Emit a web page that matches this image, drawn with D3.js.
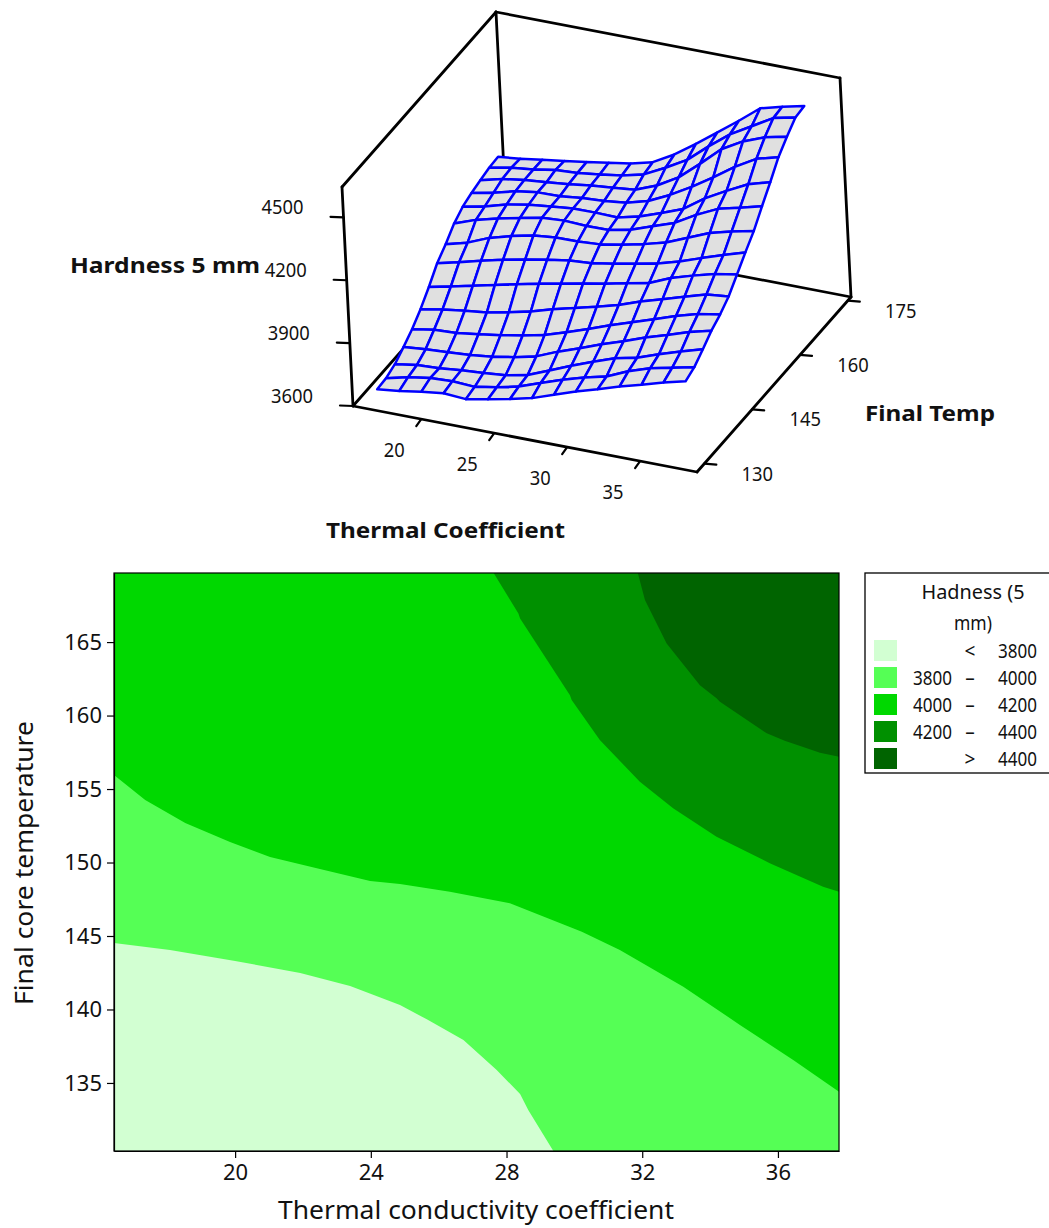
<!DOCTYPE html>
<html>
<head>
<meta charset="utf-8">
<style>
html,body{margin:0;padding:0;background:#fff;overflow:hidden}
svg{display:block}
text{font-family:"Noto Sans",Tahoma,sans-serif;fill:#111}
</style>
<script src="https://cdn.jsdelivr.net/npm/d3@7"></script>
</head>
<body>
<svg id="chart" width="1049" height="1228"></svg>
<script>
// ---------- data: 3D response surface ----------
const xExtent = [16.43, 37.8];
const yExtent = [130.37, 169.7];
const hardnessRows = [
 [3649,3661,3678,3691,3683,3703,3724,3749,3785,3821,3853,3886,3915,3946,3972],
 [3653,3678,3694,3699,3693,3711,3735,3773,3808,3840,3865,3910,3945,3968,3991],
 [3671,3688,3692,3703,3711,3720,3742,3784,3827,3866,3903,3926,3963,3997,4028],
 [3704,3714,3720,3727,3739,3758,3782,3825,3862,3901,3936,3974,4006,4041,4068],
 [3741,3759,3763,3778,3794,3813,3836,3869,3905,3943,3978,4013,4048,4078,4096],
 [3788,3807,3821,3833,3855,3879,3910,3936,3963,3991,4028,4060,4092,4123,4134],
 [3845,3868,3892,3916,3940,3963,3983,4004,4024,4046,4068,4112,4144,4172,4190],
 [3910,3935,3963,3988,4009,4029,4045,4053,4071,4091,4112,4142,4179,4214,4247],
 [3952,3980,4023,4052,4075,4086,4087,4094,4113,4136,4164,4207,4250,4278,4300],
 [4002,4040,4067,4090,4111,4118,4113,4114,4136,4173,4209,4268,4317,4342,4370],
 [4034,4055,4085,4105,4116,4127,4128,4125,4150,4187,4227,4298,4354,4406,4436],
 [4051,4072,4100,4115,4117,4129,4135,4147,4176,4225,4284,4350,4420,4479,4507],
 [4063,4089,4105,4115,4126,4140,4150,4160,4201,4260,4345,4435,4493,4533,4556],
 [4074,4094,4106,4124,4131,4144,4159,4185,4237,4295,4380,4458,4517,4576,4599],
 [4078,4089,4105,4119,4134,4151,4168,4195,4252,4323,4398,4474,4554,4582,4606]
];
const surfaceZTicks = [3600,3900,4200,4500];
const surfaceXTicks = [20,25,30,35];
const surfaceYTicks = [130,145,160,175];

// ---------- data: contour boundaries (thermal coefficient, temperature) ----------
const contour3800 = [[16.43,144.52],[18.08,144.05],[20,143.3],[21.92,142.48],[23.39,141.6],[24.86,140.31],[25.65,139.33],[26.73,137.93],[27.71,135.88],[28.4,134.25],[28.64,133.16],[29.38,130.37]];
const contour4000 = [[16.43,155.95],[17.35,154.25],[18.53,152.69],[19.85,151.39],[21.03,150.37],[22.5,149.56],[23.98,148.74],[24.86,148.54],[26.33,148.01],[28.1,147.22],[30.22,145.29],[31.34,144.05],[33.21,141.55],[34.88,138.95],[36.45,136.56],[37.8,134.41]];
const contour4200 = [[27.62,169.7],[28.35,166.95],[28.4,166.61],[29.87,161.39],[29.92,161.05],[30.75,158.33],[31.93,155.5],[32.91,153.69],[34.19,151.76],[35.76,149.95],[37.33,148.35],[37.8,148.01]];
const contour4400 = [[31.87,169.7],[32.08,167.86],[32.72,164.91],[33.7,162.07],[34.19,161.17],[34.29,160.94],[35.67,158.79],[36.2,158.29],[37.24,157.47],[37.8,157.2]];
const contourXTicks = [20,24,28,32,36];
const contourYTicks = [135,140,145,150,155,160,165];

const legendBands = [["","<","3800"],["3800","–","4000"],["4000","–","4200"],["4200","–","4400"],["",">","4400"]];
const legendColors = ["#d2ffd2","#55ff55","#00d800","#009000","#006400"];

const svg = d3.select("#chart");

// ---------- 3D box and surface ----------
const uScale = d3.scaleLinear().domain([15.32,38.9]).range([0,1]);
const vScale = d3.scaleLinear().domain([127.7,176]).range([0,1]);
const wScale = d3.scaleLinear().domain([3600,4645]).range([0,1]);
const origin = [353,406], axisU = [344,66], axisV = [154,-175], axisW = [-11,-219];
const projectNorm = (u,v,w) => [
  origin[0]+u*axisU[0]+v*axisV[0]+w*axisW[0],
  origin[1]+u*axisU[1]+v*axisV[1]+w*axisW[1]
];
const project = (x,y,z) => projectNorm(uScale(x),vScale(y),wScale(z));
const g3d = svg.append("g");
const seg = (a,b,sw=2.8) => g3d.append("line")
  .attr("x1",a[0]).attr("y1",a[1]).attr("x2",b[0]).attr("y2",b[1])
  .attr("stroke","#000").attr("stroke-width",sw).attr("stroke-linecap","round");
const P = {
  fl:projectNorm(0,0,0), fr:projectNorm(1,0,0), br:projectNorm(1,1,0), bl:projectNorm(0,1,0),
  tfl:projectNorm(0,0,1), tbl:projectNorm(0,1,1), tbr:projectNorm(1,1,1)
};
[[P.fl,P.fr],[P.fr,P.br],[P.br,P.bl],[P.bl,P.fl],[P.fl,P.tfl],[P.tfl,P.tbl],[P.tbl,P.tbr],[P.tbr,P.br],[P.tbl,P.bl]]
  .forEach(s => seg(s[0],s[1]));

const tickLabel3d = (p,t) => g3d.append("text").attr("x",p[0]).attr("y",p[1]+7)
  .attr("text-anchor","middle").attr("font-size",20).attr("fill","#222")
  .attr("textLength",String(t).length*10.5).attr("lengthAdjust","spacingAndGlyphs").text(t);

surfaceZTicks.forEach(t => {
  const p = projectNorm(0,0,wScale(t));
  seg(p,[p[0]-13,p[1]-0.5],2.2);
  tickLabel3d([p[0]-61,p[1]-10],t);
});
surfaceXTicks.forEach(t => {
  const p = projectNorm(uScale(t),0,0);
  seg(p,[p[0]-5,p[1]+7],2.2);
  tickLabel3d([p[0]-27,p[1]+31],t);
});
surfaceYTicks.forEach(t => {
  const p = projectNorm(1,vScale(t),0);
  seg(p,[p[0]+12,p[1]+1],2.2);
  tickLabel3d([p[0]+53,p[1]+10],t);
});

const nI = hardnessRows[0].length, nJ = hardnessRows.length;
const gridX = d3.scaleLinear().domain([0,nI-1]).range(xExtent);
const gridY = d3.scaleLinear().domain([0,nJ-1]).range(yExtent);
const node = (i,j) => project(gridX(i),gridY(j),hardnessRows[j][i]);
const quads = [];
for (let j=nJ-2;j>=0;j--) for (let i=0;i<nI-1;i++)
  quads.push([node(i,j),node(i+1,j),node(i+1,j+1),node(i,j+1)]);
g3d.selectAll("path.quad").data(quads).join("path").attr("class","quad")
  .attr("d",d => "M"+d.join("L")+"Z")
  .attr("fill","#e0e0e0").attr("stroke","#0000ff").attr("stroke-width",2.5).attr("stroke-linejoin","round");

const boldLabel = (x,y,t,len) => svg.append("text").attr("x",x).attr("y",y)
  .attr("font-weight",700).attr("font-size",21).attr("textLength",len)
  .attr("lengthAdjust","spacingAndGlyphs").text(t);
boldLabel(70,273,"Hardness 5 mm",190);
boldLabel(865,421,"Final Temp",130);
boldLabel(326,538,"Thermal Coefficient",239);

// ---------- contour plot ----------
const plot = {left:114,right:839,top:573,bottom:1151};
const xS = d3.scaleLinear().domain(xExtent).range([plot.left,plot.right]);
const yS = d3.scaleLinear().domain(yExtent).range([plot.bottom,plot.top]);
const line = d3.line().x(d=>xS(d[0])).y(d=>yS(d[1]));
const pt = (x,y) => xS(x)+","+yS(y);
const gc = svg.append("g");
gc.append("rect").attr("x",plot.left).attr("y",plot.top)
  .attr("width",plot.right-plot.left).attr("height",plot.bottom-plot.top).attr("fill",legendColors[2]);
const region = (c,corners,col) => gc.append("path")
  .attr("d",line(c)+corners.map(k=>"L"+pt(k[0],k[1])).join("")+"Z").attr("fill",col);
region(contour4000,[[xExtent[1],yExtent[0]],[xExtent[0],yExtent[0]]],legendColors[1]);
region(contour3800,[[xExtent[0],yExtent[0]]],legendColors[0]);
region(contour4200,[[xExtent[1],yExtent[1]]],legendColors[3]);
region(contour4400,[[xExtent[1],yExtent[1]]],legendColors[4]);
gc.append("rect").attr("x",plot.left).attr("y",plot.top)
  .attr("width",plot.right-plot.left).attr("height",plot.bottom-plot.top)
  .attr("fill","none").attr("stroke","#000").attr("stroke-width",1.2);

const ax = svg.append("g").attr("transform",`translate(0,${plot.bottom})`)
  .call(d3.axisBottom(xS).tickValues(contourXTicks).tickSize(7).tickSizeOuter(0).tickPadding(6).tickFormat(d3.format("d")));
const ay = svg.append("g").attr("transform",`translate(${plot.left},0)`)
  .call(d3.axisLeft(yS).tickValues(contourYTicks).tickSize(7).tickSizeOuter(0).tickPadding(5).tickFormat(d3.format("d")));
[ax,ay].forEach(a => {
  a.selectAll("text").attr("font-size",22).style("font-family",'"Noto Sans",Tahoma,sans-serif').attr("fill","#111");
  a.selectAll("line,path").attr("stroke","#000").attr("stroke-width",1.2);
});
svg.append("text").attr("x",476).attr("y",1219).attr("text-anchor","middle")
  .attr("font-size",25).attr("textLength",396).attr("lengthAdjust","spacingAndGlyphs")
  .text("Thermal conductivity coefficient");
svg.append("text").attr("transform","translate(33,863) rotate(-90)").attr("text-anchor","middle")
  .attr("font-size",26).attr("textLength",284).attr("lengthAdjust","spacingAndGlyphs")
  .text("Final core temperature");

// ---------- legend ----------
const lg = svg.append("g");
lg.append("rect").attr("x",865).attr("y",573).attr("width",190).attr("height",200)
  .attr("fill","#fff").attr("stroke","#000").attr("stroke-width",1.3);
const legText = (x,y,anchor,t,len) => {
  const s = lg.append("text").attr("x",x).attr("y",y).attr("text-anchor",anchor).attr("font-size",19).text(t);
  if (len) s.attr("textLength",len).attr("lengthAdjust","spacingAndGlyphs");
  return s;
};
legText(973,599,"middle","Hadness (5",103);
legText(973,630,"middle","mm)",38);
const rowY = d3.scaleBand().domain(d3.range(legendBands.length)).range([640,775]);
legendBands.forEach((b,i) => {
  const y = rowY(i);
  lg.append("rect").attr("x",874).attr("y",y).attr("width",23).attr("height",21).attr("fill",legendColors[i]);
  const base = y+17.5;
  if (b[0]) legText(952,base,"end",b[0],39);
  legText(970,base,"middle",b[1]);
  legText(1037,base,"end",b[2],39);
});
</script>
</body>
</html>
